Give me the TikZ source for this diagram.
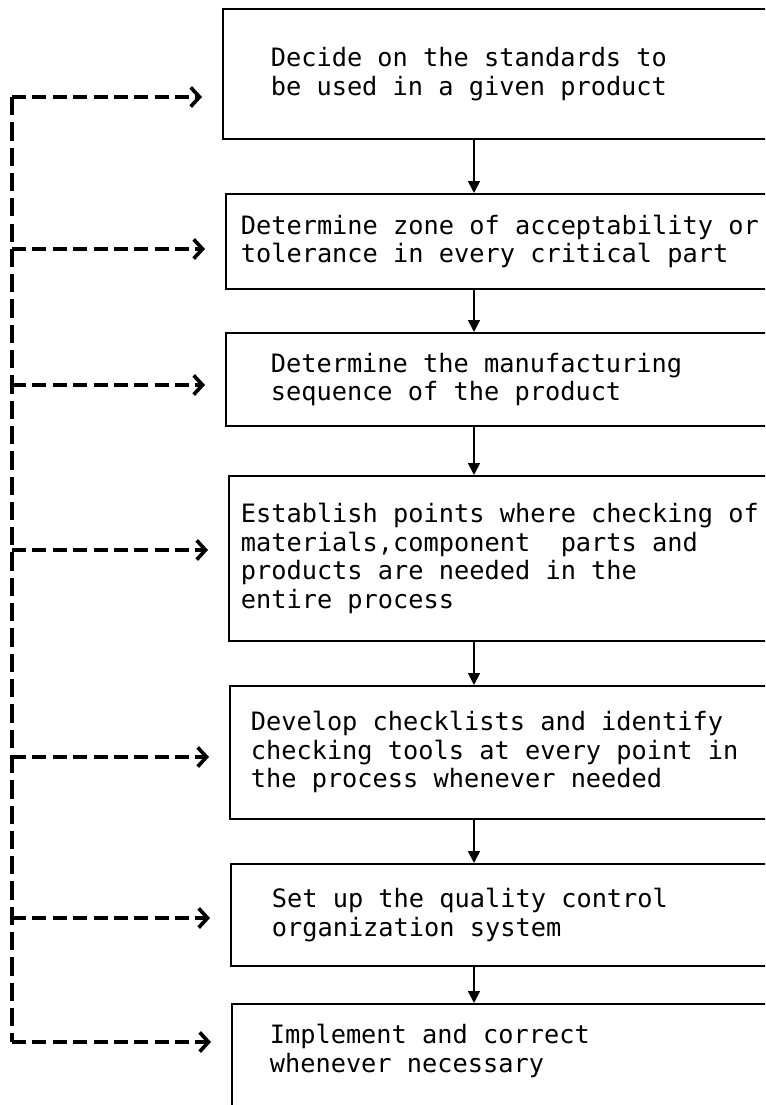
\documentclass[tikz,border=0pt]{standalone}
\usepackage{fontspec}
\setmonofont{DejaVu Sans Mono}
\usepackage{tikz}
\usetikzlibrary{arrows.meta, positioning, calc}

\begin{document}
\begin{tikzpicture}[font=\ttfamily\fontsize{18}{20.3}\selectfont,
  stepbox/.style = {draw, line width=1.2pt, align=left, anchor=north west,
                    inner ysep=0pt,
                    execute at begin node={\spaceskip=10.84pt\relax}},
  flow/.style    = {line width=1.2pt, -{Triangle[length=0.3cm, width=0.3cm]}},
  fback/.style   = {line width=2.4pt, dash pattern=on 10pt off 4.5pt,
                    -{Straight Barb[length=0.22cm, width=0.48cm, line width=2.6pt]},
                    shorten >=0.5cm},
  spine/.style   = {line width=2.4pt, dash pattern=on 13pt off 5pt}
]
%% Frame
\useasboundingbox (0,0) rectangle (19.125,-27.625);
\clip (0,0) rectangle (19.125,-27.625);

%% --- Steps ---
\node[stepbox, inner xsep=1.2cm, text width=12.6cm, minimum height=3.25cm]
  (decide) at (5.55,-0.2)
  {Decide on the standards to\\be used in a given product};
\node[stepbox, inner xsep=0.375cm, text width=14.25cm, minimum height=2.375cm]
  (zone) at (5.625,-4.825)
  {Determine zone of acceptability or\\tolerance in every critical part};
\node[stepbox, inner xsep=1.125cm, text width=12.75cm, minimum height=2.325cm]
  (sequence) at (5.625,-8.3)
  {Determine the manufacturing\\sequence of the product};
\node[stepbox, inner xsep=0.3cm, text width=14.4cm, minimum height=4.125cm]
  (points) at (5.7,-11.875)
  {Establish points where checking of\\materials,component~ parts and\\products are needed in the\\entire process};
\node[stepbox, inner xsep=0.525cm, text width=13.95cm, minimum height=3.325cm]
  (checklists) at (5.725,-17.125)
  {Develop checklists and identify\\checking tools at every point in\\the process whenever needed};
\node[stepbox, inner xsep=1.025cm, text width=12.95cm, minimum height=2.55cm]
  (setup) at (5.75,-21.575)
  {Set up the quality control\\organization system};
\node[stepbox, inner xsep=0.95cm, text width=13.1cm, minimum height=2.95cm]
  (implement) at (5.775,-25.075)
  {Implement and correct\\whenever necessary\\\vphantom{X}};

%% --- Main flow ---
\coordinate (mid) at (11.85,0);
\draw[flow] (decide.south -| mid)     -- (zone.north -| mid);
\draw[flow] (zone.south -| mid)       -- (sequence.north -| mid);
\draw[flow] (sequence.south -| mid)   -- (points.north -| mid);
\draw[flow] (points.south -| mid)     -- (checklists.north -| mid);
\draw[flow] (checklists.south -| mid) -- (setup.north -| mid);
\draw[flow] (setup.south -| mid)      -- (implement.north -| mid);

%% --- Feedback line ---
\coordinate (s1) at (0.3,-2.425);
\coordinate (s2) at (0.3,-6.225);
\coordinate (s3) at (0.3,-9.625);
\coordinate (s4) at (0.3,-13.75);
\coordinate (s5) at (0.3,-18.925);
\coordinate (s6) at (0.3,-22.95);
\coordinate (s7) at (0.3,-26.05);
\draw[spine] (s1) -- (s7);
\draw[fback] (s1) -- (s1 -| decide.west);
\draw[fback] (s2) -- (s2 -| zone.west);
\draw[fback] (s3) -- (s3 -| sequence.west);
\draw[fback] (s4) -- (s4 -| points.west);
\draw[fback] (s5) -- (s5 -| checklists.west);
\draw[fback] (s6) -- (s6 -| setup.west);
\draw[fback] (s7) -- (s7 -| implement.west);
\end{tikzpicture}
\end{document}
